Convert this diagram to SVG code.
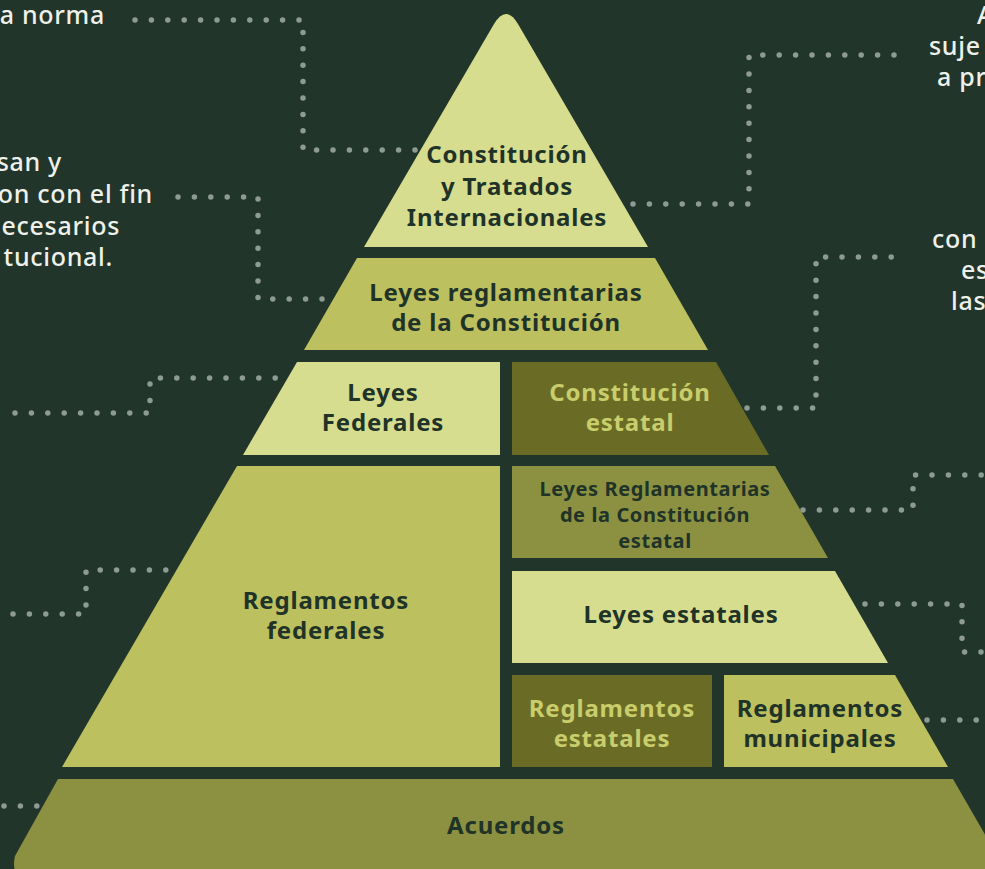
<svg xmlns="http://www.w3.org/2000/svg" width="985" height="869" viewBox="0 0 985 869">
  <style>
    .lbl { font-family: "Noto Sans", "Open Sans", sans-serif; font-weight: 700; font-size: 24px; letter-spacing: 0.8px; text-anchor: middle; fill: #1f3328; }
    .sm { font-size: 20px; letter-spacing: 0.6px; }
    .inv { fill: #c9cd6c; }
    .side { font-family: "Noto Sans", "Open Sans", sans-serif; font-weight: 500; font-size: 25px; letter-spacing: 0.7px; fill: #eef1ea; }
    .end { text-anchor: end; }
    .dots { fill: none; stroke: #8e9b93; stroke-width: 5.5; stroke-linecap: round; stroke-linejoin: round; stroke-dasharray: 0 16.4; }
    .c-light { fill: #d7dd8f; }
    .c-mid { fill: #bdc05f; }
    .c-olive { fill: #8b9140; }
    .c-dark { fill: #6a6c25; }
  </style>
  <rect width="985" height="869" fill="#22352b"/>

  <g id="connectors">
    <path class="dots" d="M135,20 H303 V150 H415"/>
    <path class="dots" d="M178,197 H258 V299 H338"/>
    <path class="dots" d="M15,413 H150 V378 H282"/>
    <path class="dots" d="M13,614 H86 V570 H172"/>
    <path class="dots" d="M4,806 H45"/>
    <path class="dots" d="M633,204 H749 V55 H897"/>
    <path class="dots" d="M747,408 H816 V257 H897"/>
    <path class="dots" d="M803,510 H913 V475 H990"/>
    <path class="dots" d="M865,604 H962 V652 H990"/>
    <path class="dots" d="M927,720 H990"/>
  </g>

  <g id="side-texts">
    <text class="side end" x="105" y="24">a norma</text>
    <text class="side end" x="62" y="171">san y</text>
    <text class="side end" x="153" y="203">on con el fin</text>
    <text class="side end" x="120" y="235">ecesarios</text>
    <text class="side end" x="113" y="266">tucional.</text>
    <text class="side" x="977" y="24">A</text>
    <text class="side" x="929" y="55">suje</text>
    <text class="side" x="937" y="86">a pr</text>
    <text class="side" x="932" y="248">con</text>
    <text class="side" x="961" y="279">es</text>
    <text class="side" x="951" y="310">las</text>
  </g>

  <g id="constitucion-tratados">
    <path class="c-light" d="M364,247 L494,24 Q506,4 518,24 L648,247 Z"/>
    <text class="lbl" x="507" y="163">Constitución</text>
    <text class="lbl" x="507" y="195">y Tratados</text>
    <text class="lbl" x="507" y="226">Internacionales</text>
  </g>

  <g id="leyes-reglamentarias">
    <path class="c-mid" d="M357,258 L655,258 L708,350 L304,350 Z"/>
    <text class="lbl" x="506" y="301">Leyes reglamentarias</text>
    <text class="lbl" x="506" y="331">de la Constitución</text>
  </g>

  <g id="leyes-federales">
    <path class="c-light" d="M297,362 L500,362 L500,455 L243,455 Z"/>
    <text class="lbl" x="383" y="401">Leyes</text>
    <text class="lbl" x="383" y="431">Federales</text>
  </g>

  <g id="constitucion-estatal">
    <path class="c-dark" d="M512,362 L716,362 L769,455 L512,455 Z"/>
    <text class="lbl inv" x="630" y="401">Constitución</text>
    <text class="lbl inv" x="630" y="431">estatal</text>
  </g>

  <g id="reglamentos-federales">
    <path class="c-mid" d="M237,466 L500,466 L500,767 L62,767 Z"/>
    <text class="lbl" x="326" y="609">Reglamentos</text>
    <text class="lbl" x="326" y="639">federales</text>
  </g>

  <g id="leyes-reglamentarias-estatal">
    <path class="c-olive" d="M512,466 L775,466 L828,558 L512,558 Z"/>
    <text class="lbl sm" x="655" y="496">Leyes Reglamentarias</text>
    <text class="lbl sm" x="655" y="522">de la Constitución</text>
    <text class="lbl sm" x="655" y="548">estatal</text>
  </g>

  <g id="leyes-estatales">
    <path class="c-light" d="M512,571 L835,571 L888,663 L512,663 Z"/>
    <text class="lbl" x="681" y="623">Leyes estatales</text>
  </g>

  <g id="reglamentos-estatales">
    <rect class="c-dark" x="512" y="675" width="200" height="92"/>
    <text class="lbl inv" x="612" y="717">Reglamentos</text>
    <text class="lbl inv" x="612" y="747">estatales</text>
  </g>

  <g id="reglamentos-municipales">
    <path class="c-mid" d="M724,675 L895,675 L948,767 L724,767 Z"/>
    <text class="lbl" x="820" y="717">Reglamentos</text>
    <text class="lbl" x="820" y="747">municipales</text>
  </g>

  <g id="acuerdos">
    <path class="c-olive" d="M58,779 L953,779 L1010,878 L30,878 Q10,878 15,856 Z"/>
    <text class="lbl" x="506" y="834">Acuerdos</text>
  </g>
</svg>
